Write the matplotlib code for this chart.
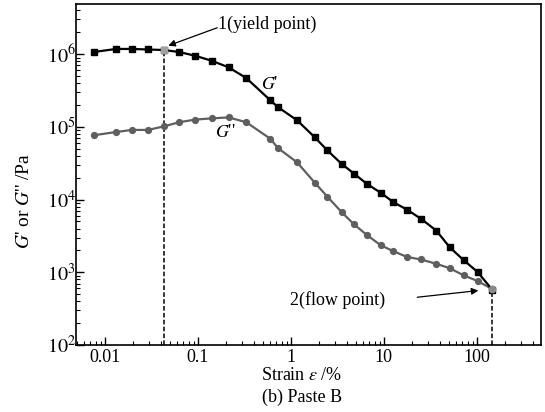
import matplotlib
matplotlib.use('Agg')
import matplotlib.pyplot as plt
from matplotlib.ticker import LogLocator, FuncFormatter, NullFormatter
import numpy as np

plt.rcParams['font.family'] = ['Liberation Serif', 'DejaVu Serif']
plt.rcParams['mathtext.fontset'] = 'stix'

# strain (%)
strain = [0.00758, 0.0132, 0.0196, 0.0292, 0.0436, 0.0633, 0.094, 0.142, 0.214,
          0.332, 0.603, 0.728, 1.17, 1.81, 2.47, 3.52, 4.78, 6.60, 9.29, 12.7,
          17.7, 25.1, 36.7, 51.0, 72.2, 102., 146.]
# storage modulus G' (Pa)
g_store = [1.07e6, 1.18e6, 1.18e6, 1.16e6, 1.14e6, 1.07e6, 9.5e5, 8.1e5, 6.6e5,
           4.7e5, 2.32e5, 1.87e5, 1.23e5, 7.2e4, 4.76e4, 3.1e4, 2.28e4, 1.64e4,
           1.24e4, 9.2e3, 7.3e3, 5.45e3, 3.75e3, 2.22e3, 1.47e3, 1.01e3, 580.]
# loss modulus G'' (Pa)
g_loss = [7.66e4, 8.5e4, 9.08e4, 9.08e4, 1.02e5, 1.16e5, 1.26e5, 1.31e5, 1.35e5,
          1.16e5, 6.86e4, 5.11e4, 3.25e4, 1.71e4, 1.10e4, 6.73e3, 4.57e3, 3.25e3,
          2.35e3, 1.95e3, 1.63e3, 1.50e3, 1.31e3, 1.14e3, 908., 759., 589.]

i_yield = 4
i_flow = 26

xmin, xmax = 0.0049, 490.
ymin, ymax = 1e2, 4.9e6

fig = plt.figure(figsize=(5.45, 4.12), dpi=100)
ax = fig.add_axes([0.1394, 0.1626, 0.8532, 0.8277])

ax.plot(strain, g_store, '-', color='k', lw=1.6, marker='s', ms=4, mfc='k', mec='k', zorder=3)
ax.plot(strain, g_loss, '-', color='#5f5f5f', lw=1.6, marker='o', ms=4.2, mfc='#5f5f5f',
        mec='#5f5f5f', zorder=2)

# highlighted points
ax.plot(strain[i_yield], g_store[i_yield], 's', ms=4, color='#a0a0a0', zorder=4)
ax.plot(strain[i_flow], g_loss[i_flow], 'o', ms=4.6, color='#8a8a8a', zorder=4)

# dashed drop lines
ax.plot([strain[i_yield], strain[i_yield]], [ymin, g_store[i_yield]], 'k--', lw=1.1, dashes=(3, 1.5), zorder=1)
ax.plot([strain[i_flow], strain[i_flow]], [ymin, g_loss[i_flow]], 'k--', lw=1.1, dashes=(3, 1.5), zorder=1)

ax.set_xscale('log')
ax.set_yscale('log')
ax.set_xlim(xmin, xmax)
ax.set_ylim(ymin, ymax)

ax.xaxis.set_major_locator(LogLocator(base=10, numticks=10))
ax.xaxis.set_minor_locator(LogLocator(base=10, subs=np.arange(2, 10), numticks=20))
ax.xaxis.set_major_formatter(FuncFormatter(lambda v, p: '%g' % v))
ax.xaxis.set_minor_formatter(NullFormatter())
ax.yaxis.set_major_locator(LogLocator(base=10, numticks=10))
ax.yaxis.set_minor_locator(LogLocator(base=10, subs=np.arange(2, 10), numticks=20))
ax.yaxis.set_major_formatter(FuncFormatter(lambda v, p: r'$10^{%d}$' % round(np.log10(v))))
ax.yaxis.set_minor_formatter(NullFormatter())

ax.tick_params(which='both', direction='in', top=False, right=False)
ax.tick_params(which='major', length=6, width=1)
ax.tick_params(which='minor', length=3, width=0.8)
ax.tick_params(axis='x', pad=3, labelsize=13)
ax.tick_params(axis='y', pad=0, labelsize=14.5)
for s in ax.spines.values():
    s.set_linewidth(1.2)

ax.set_ylabel("$G$' or $G$'' /Pa", fontsize=14)
ax.yaxis.set_label_coords(-0.092, 0.422)

fig.text(302 / 545, 1 - 376 / 412, r'Strain $\varepsilon$ /%', ha='center', va='center', fontsize=13)
fig.text(302 / 545, 1 - 397 / 412, '(b) Paste B', ha='center', va='center', fontsize=13)

ax.text(0.60, 3.8e5, "$G$'", fontsize=13, ha='center', va='center')
ax.text(0.198, 8.3e4, "$G$''", fontsize=13, ha='center', va='center')

ax.text(0.166, 2.54e6, '1(yield point)', fontsize=13, ha='left', va='center')
ax.annotate('', xy=(0.0482, 1.31e6), xytext=(0.162, 2.31e6),
            arrowprops=dict(arrowstyle='-|>', color='k', lw=0.9, mutation_scale=10, shrinkA=0, shrinkB=0))
ax.text(0.99, 422., '2(flow point)', fontsize=13, ha='left', va='center')
ax.annotate('', xy=(104., 561.), xytext=(22.9, 454.),
            arrowprops=dict(arrowstyle='-|>', color='k', lw=0.9, mutation_scale=10, shrinkA=0, shrinkB=0))

fig.savefig('out.png', dpi=100)
